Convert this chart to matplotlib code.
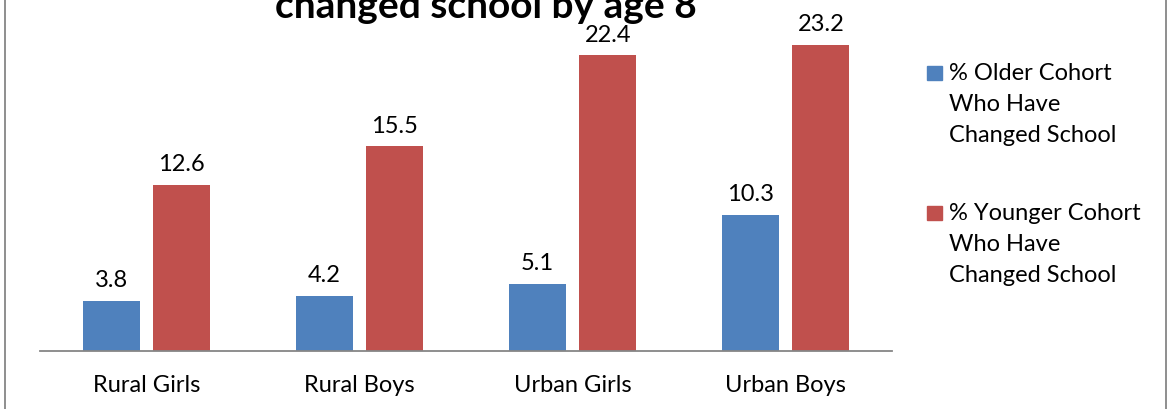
import matplotlib.pyplot as plt
import numpy as np
from matplotlib.patches import Rectangle

categories = ['Rural Girls', 'Rural Boys', 'Urban Girls', 'Urban Boys']
older = [3.8, 4.2, 5.1, 10.3]
younger = [12.6, 15.5, 22.4, 23.2]
labels = ['% Older Cohort\nWho Have\nChanged School',
          '% Younger Cohort\nWho Have\nChanged School']
colors = ['#4F81BD', '#C0504D']

plt.rcParams['font.family'] = ['Lato', 'DejaVu Sans']

fig = plt.figure(figsize=(11.68, 4.09), dpi=100)
W, H = 1168, 409
ax = fig.add_axes([40 / W, (H - 351) / H, 852 / W, 351 / H])

x = np.arange(len(categories))
width = 0.268
off = 0.166
b1 = ax.bar(x - off, older, width, color=colors[0])
b2 = ax.bar(x + off, younger, width, color=colors[1])

for bars in (b1, b2):
    for b in bars:
        ax.annotate(f'{b.get_height():.1f}', (b.get_x() + b.get_width() / 2, b.get_height()),
                    xytext=(0, 7), textcoords='offset points', ha='center', va='bottom',
                    fontsize=17, color='#000000')

ax.set_xlim(-0.5, 3.5)
ax.set_ylim(0, 351 / 13.2)
ax.set_xticks(x)
ax.set_xticklabels(categories, fontsize=17)
ax.tick_params(axis='x', length=0, pad=17)
ax.set_yticks([])
for s in ['top', 'right', 'left']:
    ax.spines[s].set_visible(False)
ax.spines['bottom'].set_color('#868686')
ax.spines['bottom'].set_linewidth(1.3)

# title, cut at the top as in the original
fig.text(486 / W, 1 - 18 / H, 'changed school by age 8', ha='center', va='baseline',
         fontsize=28, fontweight='bold')

# legend drawn by hand so the marker sits beside the first line
for i, (lab, c) in enumerate(zip(labels, colors)):
    yc = 73 + i * 140
    fig.patches.append(Rectangle((927 / W, 1 - (yc + 7) / H), 15 / W, 14 / H,
                                 transform=fig.transFigure, color=c))
    for j, line in enumerate(lab.split('\n')):
        fig.text(949 / W, 1 - (yc + j * 31.5) / H, line, ha='left', va='center',
                 fontsize=17)

fig.patches.append(Rectangle((5 / W, -0.1), 1161 / W, 1.3, transform=fig.transFigure,
                             fill=False, edgecolor='#868686', linewidth=1.3))

fig.savefig('out.png', dpi=100)
